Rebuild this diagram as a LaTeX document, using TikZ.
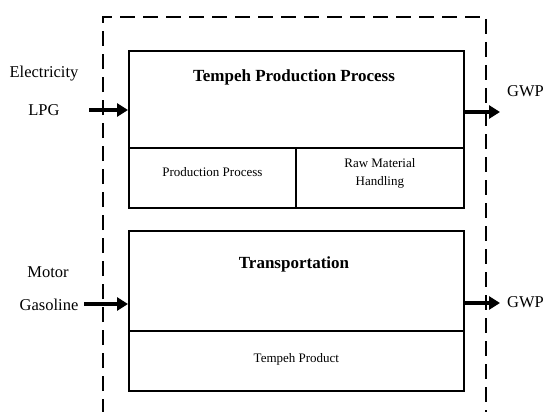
\documentclass[tikz,border=0pt]{standalone}
\usepackage{fontspec}
\setmainfont{Liberation Serif}
\usetikzlibrary{arrows.meta}
\begin{document}
\begin{tikzpicture}[x=1pt,y=-1pt,
  boxline/.style={draw,line width=1.8pt},
  flow/.style={line width=4pt,-{Triangle[length=11pt,width=13pt]}},
  lbl/.style={font=\fontsize{16.5}{19}\selectfont,inner sep=0pt},
  ttl/.style={font=\bfseries\fontsize{17}{20}\selectfont,inner sep=0pt},
  sub/.style={font=\fontsize{13}{18}\selectfont,inner sep=0pt,align=center}]
\useasboundingbox (0,0) rectangle (546,412);
% system boundary
\draw[line width=2.4pt,dash pattern=on 15pt off 8pt] (103,414) -- (103,17) -- (486,17) -- (486,414);
% top block
\node[boxline,minimum width=335pt,minimum height=97pt,anchor=north west,inner sep=0pt] (tpp) at (128,50) {};
\node[boxline,minimum width=167pt,minimum height=60pt,anchor=north west,inner sep=0pt] (pp) at (128,147) {};
\node[boxline,minimum width=168pt,minimum height=60pt,anchor=north west,inner sep=0pt] (rmh) at (295,147) {};
\node[ttl] (tppt) at (294,77) {Tempeh Production Process};
\node[sub] (ppt) at ([yshift=6pt]pp.center) {Production Process};
\node[sub] (rmht) at ([yshift=5pt]rmh.center) {Raw Material\\Handling};
% bottom block
\node[boxline,minimum width=335pt,minimum height=100pt,anchor=north west,inner sep=0pt] (tr) at (128,230) {};
\node[boxline,minimum width=335pt,minimum height=60pt,anchor=north west,inner sep=0pt] (tp) at (128,330) {};
\node[ttl] (trt) at (294,264) {Transportation};
\node[sub] (tpt) at ([yshift=2pt]tp.center) {Tempeh Product};
% inputs / outputs
\node[lbl] (el) at (44,74) {Electricity};
\node[lbl] (lpg) at (44,110) {LPG};
\node[lbl] (mo) at (48,272) {Motor};
\node[lbl] (ga) at (49,305) {Gasoline};
\node[lbl,anchor=west] (g1) at (507,91) {GWP};
\node[lbl,anchor=west] (g2) at (507,302) {GWP};
\coordinate (a1) at (89,110);
\coordinate (a2) at (84,304);
\coordinate (b1) at (500,112);
\coordinate (b2) at (500,303);
\draw[flow] (a1) -- (a1 -| tpp.west);
\draw[flow] (a2) -- (a2 -| tr.west);
\draw[flow] (b1 -| tpp.east) -- (b1);
\draw[flow] (b2 -| tr.east) -- (b2);
\end{tikzpicture}
\end{document}
